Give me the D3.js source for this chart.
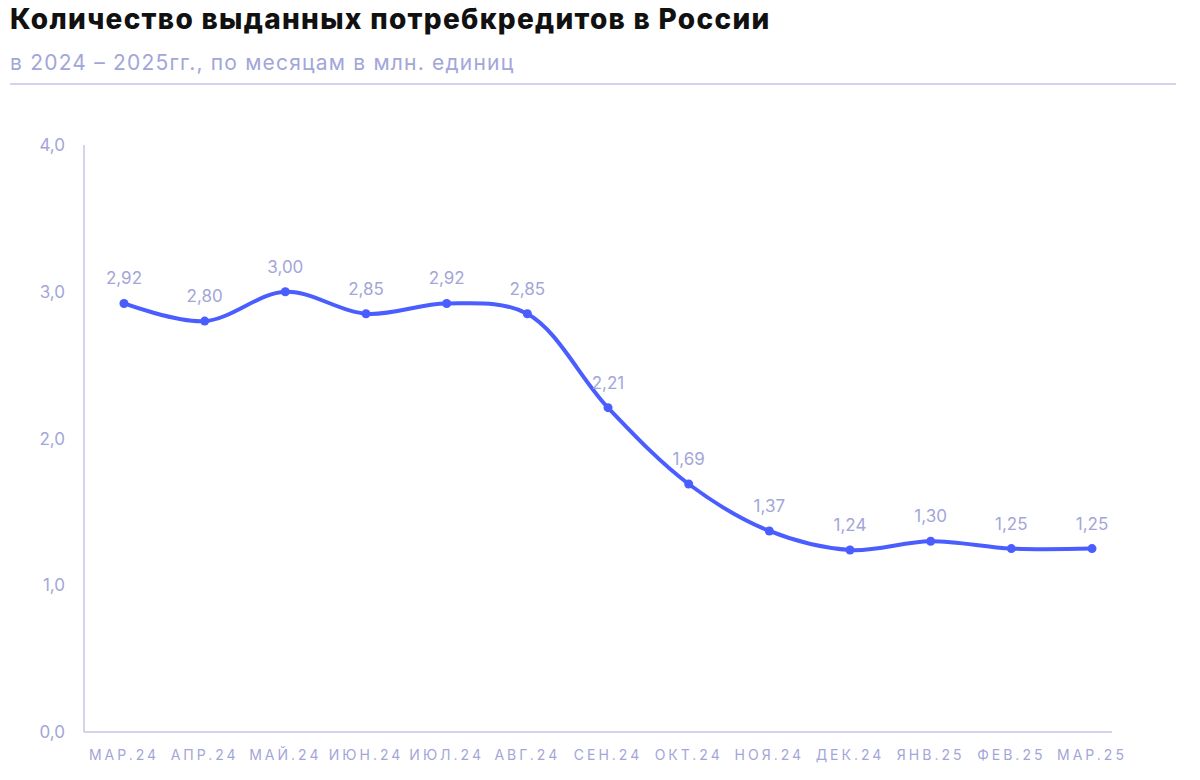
<!DOCTYPE html>
<html><head><meta charset="utf-8">
<script src="https://cdn.jsdelivr.net/npm/d3@7"></script>
<style>body{margin:0;background:#fff;font-family:Inter,"Noto Sans",sans-serif}</style>
</head><body><svg id="chart" width="1200" height="780"></svg>
<script>
// Chart data
const months = ["МАР.24","АПР.24","МАЙ.24","ИЮН.24","ИЮЛ.24","АВГ.24","СЕН.24","ОКТ.24","НОЯ.24","ДЕК.24","ЯНВ.25","ФЕВ.25","МАР.25"];
const loans = [2.92,2.80,3.00,2.85,2.92,2.85,2.21,1.69,1.37,1.24,1.30,1.25,1.25];
const yTicks = [0,1,2,3,4];

const svg = d3.select("#chart");
const lavender = "#a3a6d8";
const fmt = v => d3.format(".2f")(v).replace(".", ",");

svg.append("text").attr("x", 10).attr("y", 29)
    .attr("font-size", 28).attr("font-weight", 800).attr("letter-spacing", 1.3).attr("fill", "#111")
    .text("Количество выданных потребкредитов в России");
svg.append("text").attr("x", 10).attr("y", 70)
    .attr("font-size", 21).attr("letter-spacing", 1.2).attr("fill", lavender)
    .text("в 2024 – 2025гг., по месяцам в млн. единиц");
svg.append("line").attr("x1", 10).attr("x2", 1176).attr("y1", 84).attr("y2", 84)
    .attr("stroke", "#c4c6e6").attr("stroke-width", 1.5);

const x = d3.scalePoint().domain(months).range([124, 1092]);
const y = d3.scaleLinear().domain([0, 4]).range([732, 145]);

// axes
svg.append("line").attr("x1", 84).attr("x2", 84).attr("y1", y(4)).attr("y2", y(0))
    .attr("stroke", "#c4c6e6").attr("stroke-width", 1.5);
svg.append("line").attr("x1", 84).attr("x2", 1112).attr("y1", y(0)).attr("y2", y(0))
    .attr("stroke", "#c4c6e6").attr("stroke-width", 1.5);

svg.selectAll(".ytick").data(yTicks).join("text")
    .attr("x", 65).attr("y", d => y(d) + 6)
    .attr("text-anchor", "end").attr("font-size", 17).attr("fill", lavender)
    .text(d => d3.format(".1f")(d).replace(".", ","));

svg.selectAll(".xtick").data(months).join("text")
    .attr("x", d => x(d)).attr("y", 760)
    .attr("text-anchor", "middle").attr("font-size", 14).attr("letter-spacing", 3)
    .attr("fill", lavender).text(d => d);

const line = d3.line().x((d, i) => x(months[i])).y(d => y(d)).curve(d3.curveCatmullRom);
svg.append("path").datum(loans).attr("d", line)
    .attr("fill", "none").attr("stroke", "#4a5dff").attr("stroke-width", 4);

svg.selectAll(".dot").data(loans).join("circle")
    .attr("cx", (d, i) => x(months[i])).attr("cy", d => y(d)).attr("r", 4.5).attr("fill", "#4a5dff");

svg.selectAll(".lbl").data(loans).join("text")
    .attr("x", (d, i) => x(months[i])).attr("y", d => y(d) - 19)
    .attr("text-anchor", "middle").attr("font-size", 17).attr("fill", lavender)
    .text(d => fmt(d));
</script></body></html>
